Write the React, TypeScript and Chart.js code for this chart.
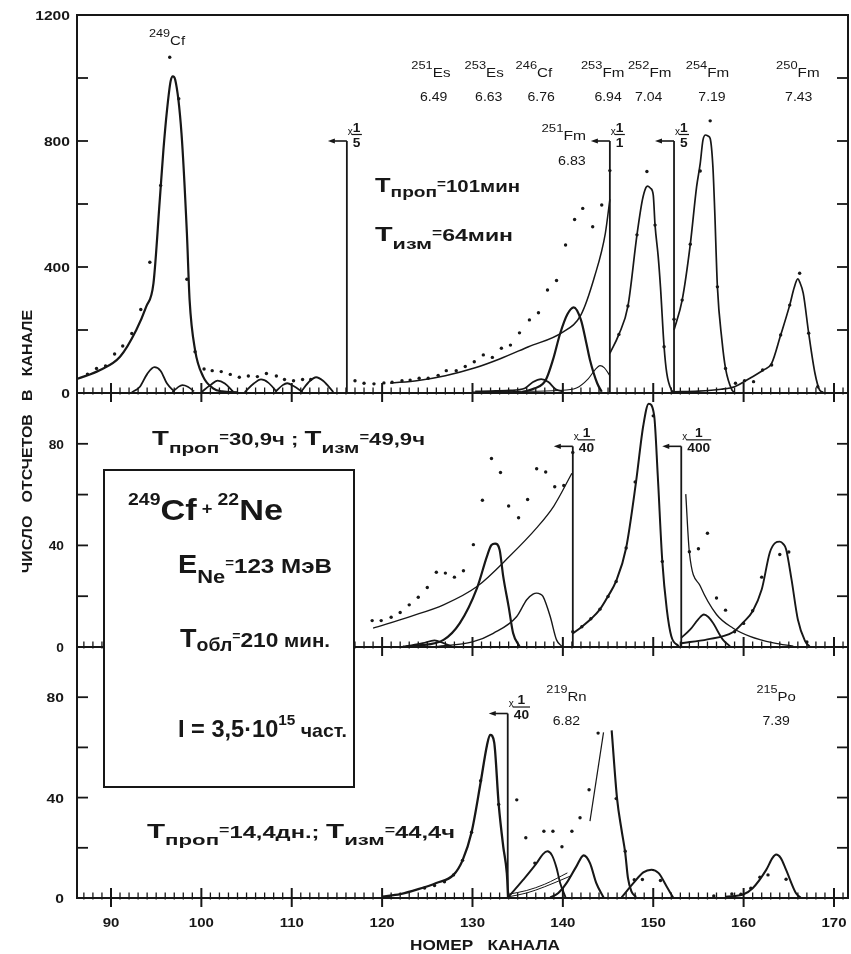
import React, { useEffect, useRef } from 'react';
import { Chart, registerables } from 'chart.js';

Chart.register(...registerables);

// ------------------------------------------------------------------ data
type Pt = [number, number];

const X_MIN = 86.24;
const X_MAX = 171.55;
const X_TICKS = [90, 100, 110, 120, 130, 140, 150, 160, 170];
const X_TICK_LABELS = ['90', '100', '110', '120', '130', '140', '150', '160', '170'];

const TOP_Y_MAX = 1200;
const TOP_Y_LABELS = [0, 400, 800, 1200];
const TOP_Y_MARKS = [200, 400, 600, 800, 1000];
const MID_Y_MAX = 100;
const MID_Y_LABELS = [0, 40, 80];
const MID_Y_MARKS = [20, 40, 60, 80];
const BOT_Y_MAX = 100;
const BOT_Y_LABELS = [0, 40, 80];
const BOT_Y_MARKS = [20, 40, 60, 80];

// --- upper spectrum (Tпроп = 101 мин)
const TOP_DOTS: Pt[] = [
  [87.4, 60], [88.4, 78], [89.4, 86], [90.4, 124], [91.3, 149], [92.3, 189], [93.3, 265], [94.3, 415],
  [95.5, 659], [96.5, 1066], [97.5, 934], [98.4, 361], [99.3, 131], [100.3, 76], [101.2, 71], [102.2, 68],
  [103.2, 59], [104.2, 50], [105.2, 54], [106.2, 52], [107.2, 62], [108.3, 54], [109.2, 43], [110.2, 39],
  [111.2, 43], [112.1, 43], [117.0, 39], [118.0, 31], [119.1, 29], [120.2, 32],
  [121.1, 34], [122.2, 39], [123.1, 41], [124.1, 47], [125.1, 47], [126.2, 56], [127.1, 71], [128.2, 71],
  [129.2, 84], [130.2, 99], [131.2, 121], [132.2, 113], [133.2, 142], [134.2, 152], [135.2, 191], [136.3, 232],
  [137.3, 255], [138.3, 327], [139.3, 357], [140.3, 470], [141.3, 551], [142.2, 586], [143.3, 528], [144.3, 597],
  [145.2, 706], [146.2, 186], [147.2, 276], [148.2, 502], [149.3, 703], [150.2, 533], [151.2, 147],
  [152.3, 234], [153.2, 295], [154.1, 472], [155.2, 705], [156.3, 864], [157.1, 337], [158.0, 78], [159.1, 31],
  [160.1, 39], [161.1, 36], [162.1, 73], [163.1, 89], [164.1, 184], [165.1, 279], [166.2, 380], [167.2, 190],
  [168.2, 20],
];
const TOP_CF249_FIT: Pt[] = [
  [86.3, 45], [88.8, 73], [91.0, 115], [92.8, 200], [93.9, 274], [94.7, 348], [95.4, 613], [95.8, 771],
  [96.2, 898], [96.6, 990], [96.85, 1005], [97.1, 995], [97.8, 825], [98.4, 507], [98.7, 295], [99.3, 137],
  [100.2, 52], [101.3, 15], [102.3, 5], [104.0, 2],
];
const TOP_BUMP_1: Pt[] = [[92.3, 2], [93.2, 20], [94.0, 60], [94.8, 82], [95.5, 70], [96.2, 30], [97.0, 5]];
const TOP_BUMP_2: Pt[] = [[96.8, 3], [97.4, 18], [97.9, 25], [98.5, 20], [99.2, 5]];
const TOP_BUMP_3: Pt[] = [[100.0, 3], [101.0, 25], [101.8, 39], [102.6, 30], [103.5, 5]];
const TOP_BUMP_4: Pt[] = [[104.8, 3], [105.8, 30], [106.6, 43], [107.4, 33], [108.3, 5]];
const TOP_BUMP_5: Pt[] = [[108.2, 4], [109.0, 25], [109.5, 31], [110.2, 22], [111.2, 3]];
const TOP_BUMP_6: Pt[] = [[111.0, 3], [112.0, 38], [112.7, 50], [113.5, 38], [114.6, 3]];
const TOP_BG_TAIL: Pt[] = [
  [120.9, 31], [124.0, 40], [127.0, 55], [130.3, 80], [133.0, 108], [136.2, 147], [139.9, 192], [142.0, 248],
  [143.5, 369], [144.7, 507], [145.2, 615],
];
const TOP_FM251_FIT: Pt[] = [
  [135.5, 3], [136.9, 15], [138.1, 41], [138.9, 105], [139.7, 189], [140.5, 250], [141.2, 272], [142.0, 232],
  [142.6, 158], [143.0, 105], [143.8, 31], [144.3, 4],
];
const TOP_CF246_FIT: Pt[] = [
  [130.3, 5], [132.0, 6], [134.0, 8], [135.8, 15], [136.7, 35], [137.6, 44], [138.4, 35], [139.2, 12], [140.0, 5],
];
const TOP_FM253_FIT: Pt[] = [
  [130.0, 3], [135.0, 5], [139.5, 8], [141.5, 16], [142.8, 45], [143.6, 75], [144.1, 87], [144.6, 80], [145.2, 55],
];
const TOP_FM252_FIT: Pt[] = [
  [145.2, 126], [146.2, 186], [147.2, 276], [148.2, 502], [148.8, 613], [149.2, 653], [149.4, 657], [149.7, 650],
  [150.0, 629], [150.2, 533], [150.55, 433], [150.8, 337], [151.2, 147], [151.5, 62], [152.0, 10], [152.3, 3],
];
const TOP_FM254_FIT: Pt[] = [
  [152.3, 200], [153.2, 295], [154.1, 472], [154.8, 655], [155.2, 729], [155.5, 803], [155.8, 819], [156.1, 815],
  [156.3, 808], [156.6, 719], [156.8, 581], [157.1, 337], [157.6, 168], [158.0, 78], [158.7, 10], [159.0, 2],
];
const TOP_FM250_FIT: Pt[] = [
  [152.3, 4], [155.0, 6], [157.5, 12], [159.0, 20], [160.7, 47], [162.2, 73], [163.1, 94], [164.1, 184],
  [165.1, 279], [165.6, 335], [166.0, 362], [166.2, 353], [166.6, 316], [167.2, 190], [167.9, 62], [168.4, 10],
  [168.8, 2],
];
const TOP_MARKERS: Pt[] = [[116.1, 800], [145.2, 800], [152.3, 800]];
const TOP_MARKER_DEN = ['5', '1', '5'];
const TOP_ISO_MASS = ['251', '253', '246', '253', '252', '254', '250'];
const TOP_ISO_SYM = ['Es', 'Es', 'Cf', 'Fm', 'Fm', 'Fm', 'Fm'];
const TOP_ISO_CH = [125.4, 131.3, 136.8, 144.4, 149.6, 156.0, 166.0];
const TOP_ENERGY = ['6.49', '6.63', '6.76', '6.94', '7.04', '7.19', '7.43'];
const TOP_ENERGY_CH = [125.7, 131.8, 137.6, 145.0, 149.5, 156.5, 166.1];

// --- middle spectrum (Tпроп = 30,9 ч)
const MID_DOTS: Pt[] = [
  [118.9, 10.4], [119.9, 10.4], [121.0, 11.7], [122.0, 13.6], [123.0, 16.6], [124.0, 19.6], [125.0, 23.4],
  [126.0, 29.4], [127.0, 29.1], [128.0, 27.5], [129.0, 30.0], [130.1, 40.3], [131.1, 57.8], [132.1, 74.2],
  [133.1, 68.7], [134.0, 55.5], [135.1, 50.9], [136.1, 58.1], [137.1, 70.2], [138.1, 68.9], [139.1, 63.1],
  [140.1, 63.6], [141.1, 76.6], [141.1, 6.0], [142.1, 8.0], [143.1, 11.1], [144.1, 14.9], [145.0, 19.9],
  [145.9, 25.8], [147.0, 39.0], [148.0, 65.0], [150.0, 91.0], [151.0, 33.7], [154.0, 37.5], [155.0, 38.7],
  [156.0, 44.8], [157.0, 19.3], [158.0, 14.5], [159.0, 6.0], [160.0, 9.3], [161.0, 14.3], [162.0, 27.5],
  [164.0, 36.4], [165.0, 37.4], [167.0, 2.0],
];
const MID_BG_TAIL: Pt[] = [
  [119.0, 7.4], [123.1, 12], [126.8, 16.6], [130.5, 23.8], [134.1, 35.7], [137.1, 46.9], [139.0, 55.5], [141.0, 68.4],
];
const MID_P132: Pt[] = [
  [122.3, 0.2], [124.0, 0.6], [126.8, 2.8], [128.6, 9.4], [130.5, 23.2], [131.6, 35.7], [132.1, 40.2], [132.5, 40.7],
  [133.0, 38.3], [133.4, 27.8], [134.0, 15.9], [134.5, 5.4], [135.2, 0.2],
];
const MID_P126: Pt[] = [[122.6, 0.2], [124.5, 1.5], [125.8, 2.6], [126.8, 1.5], [127.7, 0.2]];
const MID_P137: Pt[] = [
  [126.0, 0.2], [130.0, 2], [132.3, 5.4], [134.9, 12], [136.0, 18.6], [136.7, 20.8], [137.1, 21.2], [137.5, 20.8],
  [137.8, 19.9], [138.6, 12], [139.3, 2.8], [139.9, 0.2],
];
const MID_P150: Pt[] = [
  [141.1, 5.3], [142.1, 8], [143.1, 11], [144.1, 14.8], [145.0, 20], [145.9, 26], [147.0, 39], [148.1, 65.1],
  [148.9, 87.2], [149.5, 95.8], [150.1, 91.2], [150.5, 67.5], [151.0, 33.9], [151.5, 14.8], [152.0, 4.2], [152.8, 0.3],
];
const MID_DECAY: Pt[] = [
  [153.6, 60.2], [154.0, 37.2], [155.2, 24], [157.0, 12.8], [158.8, 7.5], [160.7, 4.2], [163.3, 1.6], [165.5, 0.3],
];
const MID_P156: Pt[] = [
  [153.1, 3.6], [154.1, 6.9], [155.0, 11], [155.6, 12.8], [156.1, 11.8], [156.6, 9.5], [157.7, 2.9], [158.5, 0.3],
];
const MID_P164: Pt[] = [
  [153.1, 1.5], [156.0, 3], [158.8, 5.8], [159.9, 9.5], [161.0, 14.1], [162.0, 22.6], [162.9, 37.2], [163.5, 41],
  [164.0, 41.5], [164.4, 40.5], [164.7, 38.5], [165.3, 26.6], [166.0, 10.8], [166.8, 2.3], [167.3, 0.2],
];
const MID_MARKERS: Pt[] = [[141.1, 79], [153.1, 79]];
const MID_MARKER_DEN = ['40', '400'];

// --- lower spectrum (Tпроп = 14,4 дн.)
const BOT_DOTS: Pt[] = [
  [124.7, 4.0], [125.8, 5.0], [126.9, 6.5], [127.9, 9.2], [128.9, 15.0], [129.9, 26.2], [130.9, 46.7], [132.9, 37.3],
  [134.9, 39.1], [135.9, 24.0], [136.9, 13.9], [137.9, 26.6], [138.9, 26.6], [139.9, 20.4], [141.0, 26.6],
  [141.9, 32.0], [142.9, 43.1], [143.9, 65.7], [145.9, 39.6], [146.9, 18.6], [147.9, 7.3], [148.8, 7.4],
  [150.8, 7.0], [156.7, 0.8], [158.7, 1.6], [159.7, 1.5], [160.8, 3.9], [161.8, 8.3], [162.7, 9.2], [164.7, 7.5],
];
const BOT_P132: Pt[] = [
  [120.0, 0.5], [122.0, 1.5], [124.0, 3.5], [126.0, 6], [127.9, 9.2], [128.9, 15], [129.9, 26.2], [130.9, 46],
  [131.6, 60.8], [131.95, 65], [132.4, 62], [132.9, 37.3], [133.4, 20.6], [133.8, 9.9], [133.95, 0.5],
];
const BOT_TAIL_1: Pt[] = [[134.0, 1.5], [136.0, 3], [138.0, 5.5], [140.5, 10]];
const BOT_TAIL_2: Pt[] = [[134.0, 0.5], [136.0, 2], [138.0, 4.5], [141.0, 9]];
const BOT_P138: Pt[] = [
  [134.0, 0.5], [135.6, 7.2], [137.1, 13.9], [137.8, 17.5], [138.3, 18.6], [138.8, 17], [139.3, 12], [139.7, 6],
  [140.3, 0.2],
];
const BOT_P142: Pt[] = [
  [138.6, 0.2], [139.5, 2], [140.4, 5.9], [141.5, 12.6], [142.3, 17], [143.0, 13.9], [143.7, 5.9], [144.5, 0.2],
];
const BOT_P145_RISE: Pt[] = [[143.0, 30.6], [144.5, 66]];
const BOT_P145_FALL: Pt[] = [
  [145.4, 66.8], [146.0, 39.5], [146.5, 27], [146.9, 18], [147.2, 8], [147.6, 2.5], [148.1, 0.4],
];
const BOT_P150: Pt[] = [
  [146.5, 0.2], [147.8, 5.9], [148.9, 10.2], [149.8, 11.3], [150.6, 9.9], [151.5, 4.5], [152.2, 0.2],
];
const BOT_P164: Pt[] = [
  [158.0, 0.5], [160.0, 1.5], [161.0, 3.9], [162.5, 11.2], [163.2, 16], [163.6, 17.3], [164.1, 16], [164.7, 11.2],
  [165.8, 1.9], [166.3, 0.2],
];
const BOT_MARKERS: Pt[] = [[133.9, 73.5]];
const BOT_MARKER_DEN = ['40'];
const BOT_ISO_MASS = ['219', '215'];
const BOT_ISO_SYM = ['Rn', 'Po'];
const BOT_ISO_CH = [140.4, 163.6];
const BOT_ENERGY = ['6.82', '7.39'];

// ------------------------------------------------------------------ drawing helpers
const W = 851;
const H = 954;
const INK = '#171717';
const FONT = '"Liberation Sans", Arial, Helvetica, sans-serif';

type Run = { t: string; s: number; dy?: number; w?: string };

function setFont(ctx: CanvasRenderingContext2D, r: Run) {
  ctx.font = `${r.w ?? 'bold'} ${r.s}px ${FONT}`;
}

function drawRuns(
  ctx: CanvasRenderingContext2D,
  runs: Run[],
  x: number,
  y: number,
  o: { align?: 'left' | 'center' | 'right'; width?: number; sx?: number } = {}
) {
  let nat = 0;
  for (const r of runs) {
    setFont(ctx, r);
    nat += ctx.measureText(r.t).width;
  }
  const sx = o.width ? o.width / nat : o.sx ?? 1;
  const tot = nat * sx;
  let x0 = x;
  if (o.align === 'center') x0 = x - tot / 2;
  else if (o.align === 'right') x0 = x - tot;
  ctx.save();
  ctx.translate(x0, y);
  ctx.scale(sx, 1);
  ctx.fillStyle = INK;
  ctx.textAlign = 'left';
  ctx.textBaseline = 'alphabetic';
  let cx = 0;
  for (const r of runs) {
    setFont(ctx, r);
    ctx.fillText(r.t, cx, r.dy ?? 0);
    cx += ctx.measureText(r.t).width;
  }
  ctx.restore();
  return tot;
}

function seg(ctx: CanvasRenderingContext2D, x1: number, y1: number, x2: number, y2: number) {
  ctx.beginPath();
  ctx.moveTo(x1, y1);
  ctx.lineTo(x2, y2);
  ctx.stroke();
}

const P = (pts: Pt[]) => pts.map(([x, y]) => ({ x, y }));

const curve = (pts: Pt[], w: number) => ({
  data: P(pts),
  showLine: true,
  borderColor: INK,
  backgroundColor: INK,
  borderWidth: w,
  pointRadius: 0,
  pointHoverRadius: 0,
  cubicInterpolationMode: 'monotone',
  fill: false,
});

const straight = (pts: Pt[], w: number) => ({
  data: P(pts),
  showLine: true,
  borderColor: INK,
  borderWidth: w,
  pointRadius: 0,
  pointHoverRadius: 0,
  tension: 0,
  fill: false,
});

const dots = (pts: Pt[]) => ({
  data: P(pts),
  showLine: false,
  pointRadius: 1.7,
  pointHoverRadius: 1.7,
  pointBackgroundColor: INK,
  pointBorderWidth: 0,
  borderColor: INK,
  backgroundColor: INK,
});

const markerLines = (m: Pt[]) => m.map(([x, y]) => straight([[x, 0], [x, y]], 1.8));

type Panel = {
  key: string;
  top: number;
  bottom: number;
  yMax: number;
  yLabels: number[];
  yMarks: number[];
  labelRight: number;
  labelSx: number;
  markers: Pt[];
  den: string[];
  datasets: any[];
  extra: (chart: any) => void;
};

function drawFrame(chart: any, p: Panel) {
  const ctx: CanvasRenderingContext2D = chart.ctx;
  const a = chart.chartArea;
  const xs = chart.scales.x;
  const ys = chart.scales.y;
  const y0 = ys.getPixelForValue(0);
  ctx.save();
  ctx.strokeStyle = INK;
  ctx.lineWidth = 2;
  seg(ctx, a.left, a.top - 1, a.left, a.bottom + 1);
  seg(ctx, a.right, a.top - 1, a.right, a.bottom + 1);
  if (p.key === 'top') seg(ctx, a.left - 1, a.top, a.right + 1, a.top);
  seg(ctx, a.left, y0, a.right, y0);
  // channel ticks along the zero line
  ctx.lineWidth = 1.3;
  for (let c = Math.ceil(X_MIN); c <= Math.floor(X_MAX); c++) {
    if (X_TICKS.includes(c)) continue;
    const px = xs.getPixelForValue(c);
    seg(ctx, px, y0 - 5.5, px, y0 + 1.5);
  }
  ctx.lineWidth = 2;
  for (const t of X_TICKS) {
    const px = xs.getPixelForValue(t);
    seg(ctx, px, y0 - 10, px, y0 + 9);
  }
  // inner y tick marks on both sides
  ctx.lineWidth = 1.8;
  for (const v of p.yMarks) {
    const py = ys.getPixelForValue(v);
    seg(ctx, a.left, py, a.left + 11, py);
    seg(ctx, a.right - 11, py, a.right, py);
  }
  ctx.restore();
  for (const v of p.yLabels) {
    const py = ys.getPixelForValue(v);
    drawRuns(ctx, [{ t: String(v), s: 12.5 }], p.labelRight, py + 5, { align: 'right', sx: p.labelSx });
  }
}

function drawMarkers(chart: any, p: Panel) {
  const ctx: CanvasRenderingContext2D = chart.ctx;
  const xs = chart.scales.x;
  const ys = chart.scales.y;
  p.markers.forEach(([x, y], i) => {
    const px = xs.getPixelForValue(x);
    const py = ys.getPixelForValue(y);
    ctx.save();
    ctx.strokeStyle = INK;
    ctx.fillStyle = INK;
    ctx.lineWidth = 1.6;
    seg(ctx, px - 13, py, px, py);
    ctx.beginPath();
    ctx.moveTo(px - 19, py);
    ctx.lineTo(px - 12, py - 2.6);
    ctx.lineTo(px - 12, py + 2.6);
    ctx.closePath();
    ctx.fill();
    ctx.restore();
    drawRuns(ctx, [{ t: 'x', s: 10, w: 'normal' }], px + 1, py - 6.5);
    const den = p.den[i];
    setFont(ctx, { t: den, s: 12.5 });
    const dw = ctx.measureText(den).width * 1.1;
    const fl = px + 6;
    const fc = fl + dw / 2;
    drawRuns(ctx, [{ t: '1', s: 12.5 }], fc, py - 9.5, { align: 'center', sx: 1.1 });
    ctx.save();
    ctx.strokeStyle = INK;
    ctx.lineWidth = 1.2;
    seg(ctx, fl - 1, py - 6.5, fl + Math.max(dw, 8) + 1, py - 6.5);
    ctx.restore();
    drawRuns(ctx, [{ t: den, s: 12.5 }], fc, py + 5.5, { align: 'center', sx: 1.1 });
  });
}

const isoRuns = (mass: string, sym: string): Run[] => [
  { t: mass, s: 11, dy: -8.5, w: 'normal' },
  { t: sym, s: 13, w: 'normal' },
];

function timeRuns(parts: { t: string; sub: string; val: string }[], subDy: number): Run[] {
  const out: Run[] = [];
  for (const q of parts) {
    out.push({ t: 'T', s: 20 });
    out.push({ t: q.sub, s: 15, dy: subDy });
    out.push({ t: '=', s: 12, dy: -4 });
    out.push({ t: q.val, s: 16 });
  }
  return out;
}

function topExtras(chart: any) {
  const ctx: CanvasRenderingContext2D = chart.ctx;
  const xs = chart.scales.x;
  // axis title
  ctx.save();
  ctx.translate(32, 441.5);
  ctx.rotate(-Math.PI / 2);
  drawRuns(ctx, [{ t: 'ЧИСЛО   ОТСЧЕТОВ   В   КАНАЛЕ', s: 14 }], 0, 0, { align: 'center', width: 263 });
  ctx.restore();
  // peak labels
  drawRuns(ctx, isoRuns('249', 'Cf'), xs.getPixelForValue(96.2), 45, { align: 'center', sx: 1.15 });
  TOP_ISO_MASS.forEach((m, i) => {
    drawRuns(ctx, isoRuns(m, TOP_ISO_SYM[i]), xs.getPixelForValue(TOP_ISO_CH[i]), 77, { align: 'center', sx: 1.17 });
  });
  TOP_ENERGY.forEach((e, i) => {
    drawRuns(ctx, [{ t: e, s: 13, w: 'normal' }], xs.getPixelForValue(TOP_ENERGY_CH[i]), 101, { align: 'center', sx: 1.08 });
  });
  drawRuns(ctx, isoRuns('251', 'Fm'), xs.getPixelForValue(140.1), 140, { align: 'center', sx: 1.2 });
  drawRuns(ctx, [{ t: '6.83', s: 13, w: 'normal' }], xs.getPixelForValue(141.0), 165, { align: 'center', sx: 1.1 });
  // times
  drawRuns(ctx, timeRuns([{ t: 'T', sub: 'проп', val: '101мин' }], 5), 375, 192, { width: 145 });
  drawRuns(ctx, timeRuns([{ t: 'T', sub: 'изм', val: '64мин' }], 8), 375, 241, { width: 138 });
}

function midExtras(chart: any) {
  const ctx: CanvasRenderingContext2D = chart.ctx;
  drawRuns(
    ctx,
    timeRuns(
      [
        { t: 'T', sub: 'проп', val: '30,9ч ; ' },
        { t: 'T', sub: 'изм', val: '49,9ч' },
      ],
      8
    ),
    152,
    445,
    { width: 273 }
  );
}

function botExtras(chart: any) {
  const ctx: CanvasRenderingContext2D = chart.ctx;
  const xs = chart.scales.x;
  BOT_ISO_MASS.forEach((m, i) => {
    const cx = xs.getPixelForValue(BOT_ISO_CH[i]);
    drawRuns(ctx, isoRuns(m, BOT_ISO_SYM[i]), cx, 701, { align: 'center', sx: 1.15 });
    drawRuns(ctx, [{ t: BOT_ENERGY[i], s: 13, w: 'normal' }], cx, 725, { align: 'center', sx: 1.08 });
  });
  drawRuns(
    ctx,
    timeRuns(
      [
        { t: 'T', sub: 'проп', val: '14,4дн.; ' },
        { t: 'T', sub: 'изм', val: '44,4ч' },
      ],
      7
    ),
    147,
    838,
    { width: 308 }
  );
  // x axis labels and title
  X_TICKS.forEach((t, i) => {
    drawRuns(ctx, [{ t: X_TICK_LABELS[i], s: 12.5 }], xs.getPixelForValue(t), 927, { align: 'center', sx: 1.2 });
  });
  drawRuns(ctx, [{ t: 'НОМЕР   КАНАЛА', s: 14 }], 410, 950, { width: 150 });
  // experiment box
  ctx.save();
  ctx.fillStyle = '#ffffff';
  ctx.fillRect(104, 470, 250, 317);
  ctx.strokeStyle = INK;
  ctx.lineWidth = 2;
  ctx.strokeRect(104, 470, 250, 317);
  ctx.restore();
  drawRuns(
    ctx,
    [
      { t: '249', s: 17, dy: -15 },
      { t: 'Cf', s: 30 },
      { t: ' + ', s: 16, dy: -6 },
      { t: '22', s: 17, dy: -15 },
      { t: 'Ne', s: 30 },
    ],
    128,
    520,
    { width: 155 }
  );
  drawRuns(
    ctx,
    [
      { t: 'E', s: 25 },
      { t: 'Ne', s: 19, dy: 10 },
      { t: '=', s: 13, dy: -6 },
      { t: '123 МэВ', s: 21 },
    ],
    178,
    573,
    { width: 154 }
  );
  drawRuns(
    ctx,
    [
      { t: 'T', s: 25 },
      { t: 'обл', s: 18, dy: 4 },
      { t: '=', s: 13, dy: -7 },
      { t: '210', s: 21 },
      { t: ' мин.', s: 19 },
    ],
    180,
    647,
    { width: 150 }
  );
  drawRuns(
    ctx,
    [
      { t: 'I = 3,5·10', s: 23 },
      { t: '15', s: 15, dy: -12 },
      { t: ' част.', s: 19 },
    ],
    178,
    737,
    { width: 169 }
  );
}

const PANELS: Panel[] = [
  {
    key: 'top',
    top: 15,
    bottom: 393,
    yMax: TOP_Y_MAX,
    yLabels: TOP_Y_LABELS,
    yMarks: TOP_Y_MARKS,
    labelRight: 70,
    labelSx: 1.25,
    markers: TOP_MARKERS,
    den: TOP_MARKER_DEN,
    datasets: [
      dots(TOP_DOTS),
      curve(TOP_CF249_FIT, 2.2),
      curve(TOP_BUMP_1, 1.8),
      curve(TOP_BUMP_2, 1.6),
      curve(TOP_BUMP_3, 1.8),
      curve(TOP_BUMP_4, 1.8),
      curve(TOP_BUMP_5, 1.8),
      curve(TOP_BUMP_6, 1.8),
      curve(TOP_BG_TAIL, 1.5),
      curve(TOP_FM251_FIT, 2.2),
      curve(TOP_CF246_FIT, 1.8),
      curve(TOP_FM253_FIT, 1.1),
      curve(TOP_FM252_FIT, 1.7),
      curve(TOP_FM254_FIT, 1.7),
      curve(TOP_FM250_FIT, 1.7),
      ...markerLines(TOP_MARKERS),
    ],
    extra: topExtras,
  },
  {
    key: 'mid',
    top: 393,
    bottom: 647,
    yMax: MID_Y_MAX,
    yLabels: MID_Y_LABELS,
    yMarks: MID_Y_MARKS,
    labelRight: 64,
    labelSx: 1.1,
    markers: MID_MARKERS,
    den: MID_MARKER_DEN,
    datasets: [
      dots(MID_DOTS),
      curve(MID_BG_TAIL, 1.3),
      curve(MID_P132, 2.2),
      curve(MID_P126, 1.8),
      curve(MID_P137, 1.4),
      curve(MID_P150, 2.0),
      curve(MID_DECAY, 1.3),
      curve(MID_P156, 1.8),
      curve(MID_P164, 1.9),
      ...markerLines(MID_MARKERS),
    ],
    extra: midExtras,
  },
  {
    key: 'bot',
    top: 647,
    bottom: 898,
    yMax: BOT_Y_MAX,
    yLabels: BOT_Y_LABELS,
    yMarks: BOT_Y_MARKS,
    labelRight: 64,
    labelSx: 1.25,
    markers: BOT_MARKERS,
    den: BOT_MARKER_DEN,
    datasets: [
      dots(BOT_DOTS),
      curve(BOT_P132, 2.3),
      curve(BOT_TAIL_1, 1.0),
      curve(BOT_TAIL_2, 1.0),
      curve(BOT_P138, 1.9),
      curve(BOT_P142, 2.1),
      straight(BOT_P145_RISE, 1.2),
      curve(BOT_P145_FALL, 2.1),
      curve(BOT_P150, 2.0),
      curve(BOT_P164, 2.0),
      ...markerLines(BOT_MARKERS),
    ],
    extra: botExtras,
  },
];

function buildConfig(p: Panel): any {
  return {
    type: 'scatter',
    data: { datasets: p.datasets },
    options: {
      animation: false,
      responsive: false,
      events: [],
      layout: {
        autoPadding: false,
        padding: { left: 77, right: W - 848, top: p.top, bottom: H - p.bottom },
      },
      plugins: { legend: { display: false }, tooltip: { enabled: false } },
      scales: {
        x: { type: 'linear', min: X_MIN, max: X_MAX, display: false },
        y: { type: 'linear', min: 0, max: p.yMax, display: false },
      },
    },
    plugins: [
      {
        id: 'panel_' + p.key,
        beforeDatasetsDraw(chart: any) {
          drawFrame(chart, p);
        },
        afterDatasetsDraw(chart: any) {
          drawMarkers(chart, p);
          p.extra(chart);
        },
      },
    ],
  };
}

export default function App() {
  const r1 = useRef<HTMLCanvasElement>(null);
  const r2 = useRef<HTMLCanvasElement>(null);
  const r3 = useRef<HTMLCanvasElement>(null);
  useEffect(() => {
    const refs = [r1, r2, r3];
    const charts = PANELS.map((p, i) => new Chart(refs[i].current as HTMLCanvasElement, buildConfig(p)));
    return () => charts.forEach((c) => c.destroy());
  }, []);
  const cs: React.CSSProperties = { position: 'absolute', left: 0, top: 0, width: W, height: H };
  return (
    <div style={{ position: 'absolute', left: 0, top: 0, width: W, height: H, background: '#ffffff', overflow: 'hidden' }}>
      <canvas ref={r1} width={W} height={H} style={cs} />
      <canvas ref={r2} width={W} height={H} style={cs} />
      <canvas ref={r3} width={W} height={H} style={cs} />
    </div>
  );
}
